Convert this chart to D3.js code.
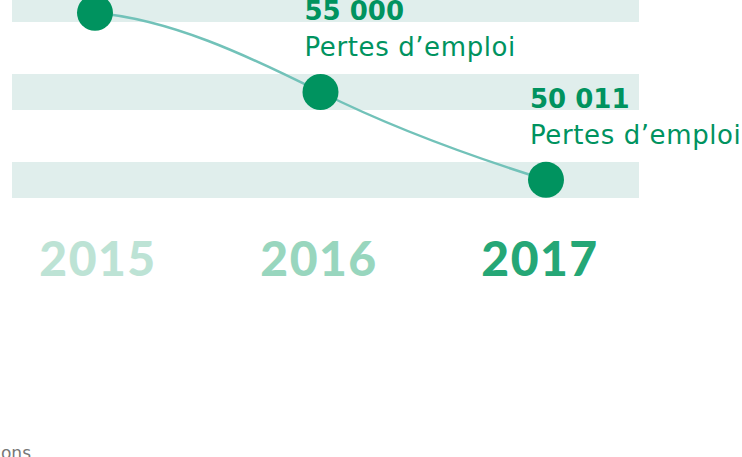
<!DOCTYPE html>
<html>
<head>
<meta charset="utf-8">
<script src="https://cdn.jsdelivr.net/npm/d3@7"></script>
<style>
  html, body { margin: 0; padding: 0; background: #fff; overflow: hidden; }
  svg { display: block; }
</style>
</head>
<body>
<div id="chart"></div>
<script>
//////////////////////////// data /////////////////////////////////////////

const years = ["2015", "2016", "2017"];
const jobLosses = [59500, 55000, 50011];
const valueLabels = ["59 500", "55 000", "50 011"];
const bandValues = [50000, 55000, 60000];
const yearColors = ["#bde3d5", "#98d6be", "#25a776"];
const labelText = "Pertes d\u2019emploi";

//////////////////////////// drawing //////////////////////////////////////

const createChart = () => {
	const width = 742;
	const height = 457;

	const svg = d3
		.select("#chart")
		.append("svg")
		.attr("width", width)
		.attr("height", height);

	const data = years.map((y, i) => ({
		year: y,
		val: jobLosses[i],
		valLab: valueLabels[i],
		color: yearColors[i]
	}));

	//////////////////////////// scales ///////////////////////////////////////

	const xScale = d3.scalePoint().domain(years).range([95, 546]);
	// year labels sit on a slightly tighter grid
	const xLabScale = d3.scalePoint().domain(years).range([98, 540]);

	const yScale = d3.scaleLinear().domain([50000, 55000]).range([180, 92]);

	// stripes behind the line
	const bandH = 36;
	svg
		.selectAll(".band")
		.data(bandValues)
		.enter()
		.append("rect")
		.attr("class", "band")
		.attr("x", 12)
		.attr("width", 627)
		.attr("y", (d) => yScale(d) - bandH / 2)
		.attr("height", bandH)
		.attr("fill", "#e0eeec");

	//////////////////////////// line ///////////////////////////////////////

	// hermite spline: eases out of the first point, steeper through the middle
	const easedPath = (pts) => {
		const p = d3.path();
		const n = pts.length;
		const sec = [];
		for (let i = 0; i < n - 1; i++) {
			sec.push((pts[i + 1][1] - pts[i][1]) / (pts[i + 1][0] - pts[i][0]));
		}
		const m = pts.map((d, i) => {
			if (i === 0) return sec[0] * 0.25;
			if (i === n - 1) return sec[n - 2] * 0.8;
			return ((sec[i - 1] + sec[i]) / 2) * 1.35;
		});
		p.moveTo(pts[0][0], pts[0][1]);
		for (let i = 0; i < n - 1; i++) {
			const h = (pts[i + 1][0] - pts[i][0]) / 3;
			p.bezierCurveTo(
				pts[i][0] + h,
				pts[i][1] + m[i] * h,
				pts[i + 1][0] - h,
				pts[i + 1][1] - m[i + 1] * h,
				pts[i + 1][0],
				pts[i + 1][1]
			);
		}
		return p.toString();
	};

	svg
		.append("path")
		.attr("d", easedPath(data.map((d) => [xScale(d.year), yScale(d.val)])))
		.attr("fill", "none")
		.attr("stroke", "#72c2b9")
		.attr("stroke-width", 2.5);

	svg
		.selectAll(".dot")
		.data(data)
		.enter()
		.append("circle")
		.attr("class", "dot")
		.attr("cx", (d) => xScale(d.year))
		.attr("cy", (d) => yScale(d.val))
		.attr("r", 18)
		.attr("fill", "#00935f");

	//////////////////////////// labels ///////////////////////////////////////

	const labels = svg
		.selectAll(".lab")
		.data(data)
		.enter()
		.append("g")
		.attr("class", "lab")
		.attr(
			"transform",
			(d) => `translate(${xScale(d.year) - 16},${yScale(d.val)})`
		);

	labels
		.append("text")
		.attr("y", -72)
		.attr("fill", "#00935f")
		.style("font-family", "DejaVu Sans")
		.style("font-weight", 700)
		.style("font-size", "26px")
		.text((d) => d.valLab);

	labels
		.append("text")
		.attr("y", -36)
		.attr("fill", "#00935f")
		.style("font-family", "DejaVu Sans")
		.style("font-weight", 400)
		.style("font-size", "26px")
		.style("letter-spacing", "0.6px")
		.text(labelText);

	svg
		.selectAll(".year")
		.data(data)
		.enter()
		.append("text")
		.attr("class", "year")
		.attr("x", (d) => xLabScale(d.year))
		.attr("y", 276)
		.attr("text-anchor", "middle")
		.attr("fill", (d) => d.color)
		.style("font-family", "Lato")
		.style("font-weight", 900)
		.style("font-size", "48px")
		.style("letter-spacing", "1.5px")
		.text((d) => d.year);

	// source note, cut by the frame
	svg
		.append("text")
		.attr("x", 31)
		.attr("y", 459)
		.attr("text-anchor", "end")
		.attr("fill", "#777")
		.style("font-family", "DejaVu Sans")
		.style("font-size", "17px")
		.text("Projections");
};

createChart();
</script>
</body>
</html>
